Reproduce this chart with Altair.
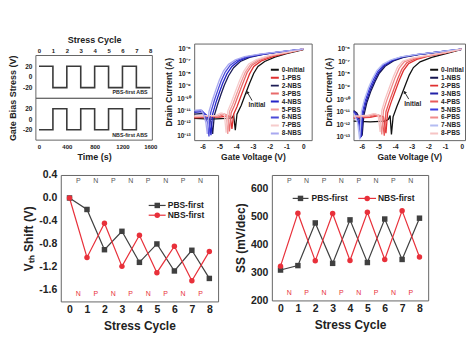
import altair as alt
import pandas as pd

FONT = "Liberation Sans"
INK = "#222222"
WAVE = "#3a3a3a"
GRAY = "#404040"
RED = "#e8303a"
FRAME = "#666666"

# ---------------- Panel A: gate-bias waveforms ----------------
stress_time = [0, 200, 400, 600, 800, 1000, 1200, 1400, 1600]
pbs_first_bias = [20, -20, 20, -20, 20, -20, 20, -20, -20]
nbs_first_bias = [-20, 20, -20, 20, -20, 20, -20, 20, 20]
time_ticks = [0, 400, 800, 1200, 1600]
bias_ticks = [-20, 0, 20]

# ---------------- Panels B/C: transfer curves (V, log10 I) ----------------
gate_voltage_ticks = [-6, -5, -4, -3, -2, -1, 0]
current_decades = [-13, -12, -11, -10, -9, -8, -7, -6]

pbs_first_names = ["0-Initial", "1-PBS", "2-NBS", "3-PBS", "4-NBS", "5-PBS", "6-NBS", "7-PBS", "8-NBS"]
pbs_first_colors = ["#111111", "#e03030", "#1c1c55", "#e86a6a", "#2424c8", "#f09a9a", "#4a4ad8", "#f6cccc", "#a8a8f0"]
pbs_first_curves = {
    "0-Initial": [(-6.5, -11.65), (-5.5, -11.7), (-4.6, -11.65), (-4.25, -11.6), (-4.15, -11.4), (-4.05, -12.6), (-3.95, -11.3), (-3.7, -10.6), (-3.45, -9.7), (-3.2, -8.8), (-2.95, -8.0), (-2.7, -7.45), (-2.3, -7.05), (-1.7, -6.7), (-1.0, -6.42), (-0.5, -6.25), (0.0, -6.08)],
    "1-PBS": [(-6.5, -11.6), (-5.0, -11.55), (-4.5, -11.45), (-4.35, -11.5), (-4.25, -12.5), (-4.15, -11.3), (-3.95, -10.7), (-3.7, -9.8), (-3.45, -8.9), (-3.2, -8.05), (-2.95, -7.45), (-2.5, -7.0), (-1.8, -6.65), (-1.0, -6.38), (-0.5, -6.22), (0.0, -6.06)],
    "2-NBS": [(-6.5, -11.3), (-6.0, -11.25), (-5.7, -11.5), (-5.5, -11.9), (-5.4, -12.9), (-5.3, -11.4), (-5.1, -10.5), (-4.9, -9.7), (-4.7, -8.95), (-4.45, -8.2), (-4.15, -7.55), (-3.75, -7.05), (-3.2, -6.72), (-2.4, -6.48), (-1.5, -6.3), (-0.7, -6.17), (0.0, -6.05)],
    "3-PBS": [(-6.5, -11.55), (-5.0, -11.5), (-4.7, -11.3), (-4.5, -11.4), (-4.4, -12.7), (-4.3, -11.2), (-4.1, -10.6), (-3.85, -9.7), (-3.6, -8.8), (-3.35, -7.95), (-3.05, -7.35), (-2.6, -6.95), (-1.9, -6.6), (-1.0, -6.35), (0.0, -6.05)],
    "4-NBS": [(-6.5, -11.15), (-6.0, -11.1), (-5.75, -11.4), (-5.6, -11.9), (-5.5, -13.0), (-5.4, -11.3), (-5.2, -10.35), (-5.0, -9.55), (-4.8, -8.8), (-4.55, -8.05), (-4.25, -7.45), (-3.85, -7.0), (-3.3, -6.7), (-2.4, -6.47), (-1.5, -6.3), (-0.7, -6.17), (0.0, -6.05)],
    "5-PBS": [(-6.5, -11.5), (-5.1, -11.45), (-4.8, -11.25), (-4.6, -11.35), (-4.5, -12.9), (-4.4, -11.1), (-4.2, -10.5), (-3.95, -9.6), (-3.7, -8.7), (-3.45, -7.9), (-3.15, -7.3), (-2.7, -6.92), (-2.0, -6.58), (-1.0, -6.33), (0.0, -6.04)],
    "6-NBS": [(-6.5, -11.05), (-6.05, -11.0), (-5.85, -11.35), (-5.7, -12.0), (-5.62, -13.1), (-5.52, -11.2), (-5.3, -10.2), (-5.1, -9.4), (-4.9, -8.65), (-4.65, -7.9), (-4.35, -7.35), (-3.95, -6.95), (-3.4, -6.68), (-2.5, -6.46), (-1.5, -6.29), (-0.7, -6.16), (0.0, -6.05)],
    "7-PBS": [(-6.5, -11.45), (-5.2, -11.4), (-4.9, -11.2), (-4.7, -11.3), (-4.6, -12.8), (-4.5, -11.05), (-4.3, -10.4), (-4.05, -9.5), (-3.8, -8.6), (-3.55, -7.85), (-3.25, -7.25), (-2.8, -6.9), (-2.0, -6.56), (-1.0, -6.32), (0.0, -6.04)],
    "8-NBS": [(-6.5, -11.0), (-6.1, -10.95), (-5.95, -11.3), (-5.8, -12.0), (-5.72, -12.9), (-5.62, -11.1), (-5.4, -10.1), (-5.2, -9.3), (-5.0, -8.55), (-4.75, -7.8), (-4.45, -7.28), (-4.05, -6.92), (-3.5, -6.66), (-2.6, -6.45), (-1.5, -6.28), (-0.7, -6.15), (0.0, -6.05)],
}

nbs_first_names = ["0-Initial", "1-NBS", "2-PBS", "3-NBS", "4-PBS", "5-NBS", "6-PBS", "7-NBS", "8-PBS"]
nbs_first_colors = ["#111111", "#161650", "#e03030", "#2222a8", "#e85a5a", "#3c3ce0", "#f08c8c", "#b4bcf2", "#f6c4c4"]
nbs_first_curves = {
    "0-Initial": [(-6.5, -11.75), (-5.5, -11.8), (-4.6, -11.75), (-4.4, -11.6), (-4.3, -11.3), (-4.22, -12.8), (-4.12, -11.4), (-3.9, -10.6), (-3.65, -9.8), (-3.4, -8.95), (-3.15, -8.1), (-2.9, -7.5), (-2.5, -7.05), (-1.8, -6.7), (-1.0, -6.42), (0.0, -6.06)],
    "1-NBS": [(-6.5, -10.9), (-6.3, -11.1), (-6.1, -11.6), (-5.98, -12.9), (-5.88, -11.3), (-5.7, -10.3), (-5.45, -9.35), (-5.2, -8.6), (-4.95, -7.95), (-4.6, -7.4), (-4.1, -6.98), (-3.5, -6.7), (-2.6, -6.47), (-1.5, -6.29), (-0.7, -6.16), (0.0, -6.05)],
    "2-PBS": [(-6.5, -11.5), (-5.5, -11.45), (-5.0, -11.3), (-4.7, -11.4), (-4.55, -12.7), (-4.45, -11.1), (-4.25, -10.3), (-4.0, -9.4), (-3.75, -8.5), (-3.5, -7.75), (-3.2, -7.2), (-2.7, -6.85), (-2.0, -6.6), (-1.0, -6.35), (0.0, -6.05)],
    "3-NBS": [(-6.5, -10.95), (-6.3, -11.2), (-6.15, -11.7), (-6.03, -13.0), (-5.93, -11.2), (-5.75, -10.25), (-5.5, -9.3), (-5.25, -8.55), (-5.0, -7.9), (-4.65, -7.35), (-4.15, -6.95), (-3.55, -6.68), (-2.6, -6.46), (-1.5, -6.29), (-0.7, -6.16), (0.0, -6.05)],
    "4-PBS": [(-6.5, -11.45), (-5.5, -11.4), (-5.1, -11.25), (-4.8, -11.35), (-4.65, -12.9), (-4.55, -11.0), (-4.35, -10.2), (-4.1, -9.3), (-3.85, -8.4), (-3.6, -7.65), (-3.3, -7.12), (-2.8, -6.82), (-2.0, -6.57), (-1.0, -6.33), (0.0, -6.05)],
    "5-NBS": [(-6.5, -11.0), (-6.35, -11.3), (-6.2, -11.8), (-6.08, -13.1), (-5.98, -11.1), (-5.8, -10.15), (-5.55, -9.2), (-5.3, -8.45), (-5.05, -7.82), (-4.7, -7.3), (-4.2, -6.92), (-3.6, -6.66), (-2.6, -6.45), (-1.5, -6.28), (-0.7, -6.15), (0.0, -6.05)],
    "6-PBS": [(-6.5, -11.4), (-5.6, -11.35), (-5.2, -11.2), (-4.92, -11.3), (-4.8, -12.8), (-4.7, -10.95), (-4.5, -10.1), (-4.25, -9.2), (-4.0, -8.3), (-3.75, -7.55), (-3.45, -7.05), (-2.9, -6.78), (-2.0, -6.55), (-1.0, -6.32), (0.0, -6.04)],
    "7-NBS": [(-6.5, -11.1), (-6.4, -11.4), (-6.25, -11.9), (-6.13, -13.2), (-6.03, -11.0), (-5.85, -10.05), (-5.6, -9.1), (-5.35, -8.35), (-5.1, -7.75), (-4.75, -7.25), (-4.25, -6.9), (-3.65, -6.65), (-2.6, -6.44), (-1.5, -6.28), (-0.7, -6.15), (0.0, -6.05)],
    "8-PBS": [(-6.5, -11.35), (-5.7, -11.3), (-5.3, -11.15), (-5.02, -11.25), (-4.9, -12.6), (-4.8, -10.9), (-4.6, -10.0), (-4.35, -9.1), (-4.1, -8.2), (-3.85, -7.45), (-3.55, -7.0), (-3.0, -6.75), (-2.0, -6.54), (-1.0, -6.31), (0.0, -6.04)],
}

# "Initial" annotation: label position and arrow (tail -> head)
initial_label_b = (-2.76, -10.55)
initial_arrow_b = (-3.05, -10.2, -3.34, -9.52)
initial_label_c = (-2.94, -10.35)
initial_arrow_c = (-3.18, -10.0, -3.43, -9.44)

# ---------------- Panels D/E: Vth shift and SS vs stress cycle ----------------
cycles = [0, 1, 2, 3, 4, 5, 6, 7, 8]
vth_pbs_first = [0.0, -0.20, -0.90, -0.58, -1.12, -0.80, -1.27, -0.91, -1.40]
vth_nbs_first = [0.0, -1.035, -0.44, -1.19, -0.65, -1.30, -0.84, -1.44, -0.93]
ss_pbs_first = [309, 325, 478, 333, 489, 336, 492, 347, 495]
ss_nbs_first = [323, 513, 342, 512, 343, 516, 347, 522, 356]
series_names = ["PBS-first", "NBS-first"]
series_colors = [GRAY, RED]
series_shapes = ["square", "circle"]
letter_cycles = [0.5, 1.5, 2.5, 3.5, 4.5, 5.5, 6.5, 7.5]
top_letters = ["P", "N", "P", "N", "P", "N", "P", "N"]
bottom_letters = ["N", "P", "N", "P", "N", "P", "N", "P"]
vth_ticks = [-1.6, -1.2, -0.8, -0.4, 0.0, 0.4]
ss_ticks = [200, 300, 400, 500, 600]

MINUS = "replace(datum.label, '\u2212', '-')"
SUP = str.maketrans("-0123456789", "\u207b\u2070\u00b9\u00b2\u00b3\u2074\u2075\u2076\u2077\u2078\u2079")
POW_EXPR = "".join(f"datum.value == {d} ? '10{str(d).translate(SUP)}' : " for d in current_decades) + "''"

AX = dict(tickCount=60, labelOverlap=False, labelFlush=False, labelBound=False, labelFontWeight="bold",
          titleFontWeight="bold", labelColor=INK, titleColor=INK, domain=False, ticks=False, grid=False)


def frame():
    return alt.ViewBackground(stroke=FRAME, strokeWidth=1)


def spacer(w, h):
    return alt.Chart(pd.DataFrame({"s": [0]})).mark_point(opacity=0).encode(
        x=alt.value(0), y=alt.value(0)
    ).properties(width=w, height=h, view=alt.ViewBackground(stroke=None))


# ---------------- Panel A (two stacked sub-plots in one view) ----------------
A_W, A_H, A_TOP, A_MID = 117, 97, 12, 55
xA = alt.Scale(domain=[-45, 1630], nice=False, zero=False)
yA_top = alt.Scale(domain=[-40, 40], range=[A_MID, A_TOP], nice=False, zero=False)
yA_bot = alt.Scale(domain=[-40, 40], range=[A_H, A_MID], nice=False, zero=False)
box = pd.DataFrame({"k": [0]})

a_top = alt.layer(
    alt.Chart(pd.DataFrame({"t": stress_time, "v": pbs_first_bias})).mark_line(
        interpolate="step-after", color=WAVE, strokeWidth=1.6).encode(
        x=alt.X("t:Q", scale=xA, axis=alt.Axis(orient="top", offset=-A_TOP, values=stress_time,
                                               labelExpr="datum.value / 200", title="Stress Cycle",
                                               labelFontSize=6, titleFontSize=9, labelPadding=2,
                                               titlePadding=3, **AX)),
        y=alt.Y("v:Q", scale=yA_top, axis=alt.Axis(orient="left", values=bias_ticks, format="d", labelExpr=MINUS,
                                                   labelFontSize=6.5, labelPadding=4,
                                                   title="Gate Bias Stress (V)", titleFontSize=9,
                                                   titleX=-18, titleY=(A_TOP + A_H) / 2, titleAngle=270,
                                                   titleAlign="center", titleBaseline="bottom", **AX)),
    ),
    alt.Chart(pd.DataFrame({"t": [1560], "v": [-29], "label": ["PBS-first ABS"]})).mark_text(
        align="right", baseline="middle", fontSize=5.3, fontWeight="bold", color=INK
    ).encode(x="t:Q", y="v:Q", text="label:N"),
    alt.Chart(box).mark_rect(fillOpacity=0, stroke=FRAME, strokeWidth=1).encode(
        x=alt.value(0), x2=alt.value(A_W), y=alt.value(A_TOP), y2=alt.value(A_MID)),
)
a_bot = alt.layer(
    alt.Chart(pd.DataFrame({"t": stress_time, "v": nbs_first_bias})).mark_line(
        interpolate="step-after", color=WAVE, strokeWidth=1.6).encode(
        x=alt.X("t:Q", scale=xA, axis=alt.Axis(orient="bottom", values=time_ticks, format="d", title="Time (s)",
                                               labelFontSize=6, titleFontSize=9, labelPadding=3,
                                               titlePadding=3, **AX)),
        y=alt.Y("v:Q", scale=yA_bot, axis=alt.Axis(orient="left", values=bias_ticks, format="d", labelExpr=MINUS,
                                                   labelFontSize=6.5, labelPadding=4, title=None, **AX)),
    ),
    alt.Chart(pd.DataFrame({"t": [1560], "v": [-30.5], "label": ["NBS-first ABS"]})).mark_text(
        align="right", baseline="middle", fontSize=5.3, fontWeight="bold", color=INK
    ).encode(x="t:Q", y="v:Q", text="label:N"),
    alt.Chart(box).mark_rect(fillOpacity=0, stroke=FRAME, strokeWidth=1).encode(
        x=alt.value(0), x2=alt.value(A_W), y=alt.value(A_MID), y2=alt.value(A_H)),
)
panel_a = alt.layer(a_top, a_bot).resolve_scale(y="independent").resolve_axis(
    x="independent", y="independent").properties(width=A_W, height=A_H, view=alt.ViewBackground(stroke=None))


# ---------------- Panels B / C ----------------
def transfer_panel(names, colors, curves, field, xdom, ydom, label_pos, arrow, width):
    rows = []
    for name in names:
        for v, li in curves[name]:
            rows.append({field: name, "V": v, "logI": li})
    df = pd.DataFrame(rows)
    xs = alt.Scale(domain=xdom, nice=False, zero=False)
    ys = alt.Scale(domain=ydom, nice=False, zero=False)
    lines = alt.Chart(df).mark_line(strokeWidth=1.3, clip=True).encode(
        x=alt.X("V:Q", scale=xs, axis=alt.Axis(values=gate_voltage_ticks, format="d", labelExpr=MINUS,
                                               labelFontSize=6.5, labelPadding=3, title="Gate Voltage (V)",
                                               titleFontSize=8.5, titlePadding=3, **AX)),
        y=alt.Y("logI:Q", scale=ys, axis=alt.Axis(values=current_decades, labelExpr=POW_EXPR, labelFontSize=6.5,
                                                  labelPadding=4, title="Drain Current (A)", titleFontSize=8.5,
                                                  titlePadding=3, **AX)),
        color=alt.Color(f"{field}:N", sort=names, scale=alt.Scale(domain=names, range=colors),
                        legend=alt.Legend(orient="none", legendX=76, legendY=23, title=None,
                                          symbolType="stroke", symbolStrokeWidth=2, symbolSize=64,
                                          labelFontSize=6.5, labelFontWeight="bold", labelColor=INK,
                                          clipHeight=6.5, rowPadding=1, padding=0, labelOffset=2)),
    )
    arrow_df = pd.DataFrame({"V": [arrow[0]], "logI": [arrow[1]], "V2": [arrow[2]], "logI2": [arrow[3]]})
    arrow_line = alt.Chart(arrow_df).mark_rule(color=INK, strokeWidth=0.9).encode(
        x="V:Q", y="logI:Q", x2="V2:Q", y2="logI2:Q")
    head_df = pd.DataFrame({"V": [arrow[2]], "logI": [arrow[3]]})
    arrow_head = alt.Chart(head_df).mark_point(shape="triangle-up", filled=True, size=14, color=INK,
                                               angle=330, opacity=1).encode(x="V:Q", y="logI:Q")
    label_df = pd.DataFrame({"V": [label_pos[0]], "logI": [label_pos[1]], "label": ["Initial"]})
    label = alt.Chart(label_df).mark_text(fontSize=6.5, fontWeight="bold", color=INK).encode(
        x="V:Q", y="logI:Q", text="label:N")
    return alt.layer(lines, arrow_line, arrow_head, label).properties(width=width, height=97, view=frame())


panel_b = transfer_panel(pbs_first_names, pbs_first_colors, pbs_first_curves, "curveB",
                         [-6.5, 0.5], [-13.4, -5.6], initial_label_b, initial_arrow_b, 118)
panel_c = transfer_panel(nbs_first_names, nbs_first_colors, nbs_first_curves, "curveC",
                         [-6.5, 0.2], [-13.25, -5.6], initial_label_c, initial_arrow_c, 112)


# ---------------- Panels D / E ----------------
def cycle_panel(vals_p, vals_n, ydom, yticks, yfmt_expr, ytitle, top_y, bot_y, legend_rows, width, height):
    df = pd.DataFrame({
        "cycle": cycles * 2,
        "val": vals_p + vals_n,
        "series": [series_names[0]] * len(cycles) + [series_names[1]] * len(cycles),
    })
    xs = alt.Scale(domain=[-0.5, 8.5], nice=False, zero=False)
    ys = alt.Scale(domain=ydom, nice=False, zero=False)
    cs = alt.Scale(domain=series_names, range=series_colors)
    ss = alt.Scale(domain=series_names, range=series_shapes)
    base = alt.Chart(df)
    line = base.mark_line(strokeWidth=1.2).encode(
        x=alt.X("cycle:Q", scale=xs, axis=alt.Axis(values=cycles, format="d", labelFontSize=10.5, labelPadding=3,
                                                   title="Stress Cycle", titleFontSize=12, titlePadding=6, **AX)),
        y=alt.Y("val:Q", scale=ys, axis=alt.Axis(values=yticks, labelExpr=yfmt_expr, labelFontSize=10.5,
                                                 labelPadding=4, title=ytitle, titleFontSize=12, titlePadding=3,
                                                 **AX)),
        color=alt.Color("series:N", scale=cs, legend=None),
    )
    pts = base.mark_point(filled=True, size=30, opacity=1).encode(
        x="cycle:Q", y="val:Q",
        color=alt.Color("series:N", scale=cs, legend=None),
        shape=alt.Shape("series:N", scale=ss, legend=None),
    )
    tl = alt.Chart(pd.DataFrame({"cycle": letter_cycles, "val": [top_y] * 8, "label": top_letters})).mark_text(
        fontSize=7, color="#555555").encode(x="cycle:Q", y="val:Q", text="label:N")
    bl = alt.Chart(pd.DataFrame({"cycle": letter_cycles, "val": [bot_y] * 8, "label": bottom_letters})).mark_text(
        fontSize=7, color=RED).encode(x="cycle:Q", y="val:Q", text="label:N")
    leg = pd.DataFrame(legend_rows)
    leg_line = alt.Chart(leg).mark_rule(strokeWidth=1.2).encode(
        x="cycle:Q", x2="cycle2:Q", y="val:Q", color=alt.Color("series:N", scale=cs, legend=None))
    leg_pt = alt.Chart(leg).mark_point(filled=True, size=30, opacity=1).encode(
        x="cmid:Q", y="val:Q", color=alt.Color("series:N", scale=cs, legend=None),
        shape=alt.Shape("series:N", scale=ss, legend=None))
    leg_txt = alt.Chart(leg).mark_text(align="left", fontSize=8.5, fontWeight="bold", color=INK).encode(
        x="ctext:Q", y="val:Q", text="series:N")
    return alt.layer(line, pts, tl, bl, leg_line, leg_pt, leg_txt).properties(
        width=width, height=height, view=frame())


legend_d = {"series": series_names, "cycle": [4.53, 4.53], "cycle2": [5.5, 5.5], "cmid": [5.02, 5.02],
            "ctext": [5.62, 5.62], "val": [-0.13, -0.30]}
legend_e = {"series": series_names, "cycle": [0.7, 4.47], "cycle2": [1.61, 5.5], "cmid": [1.15, 4.99],
            "ctext": [1.79, 5.61], "val": [566, 566]}

panel_d = cycle_panel(vth_pbs_first, vth_nbs_first, [-1.8, 0.4], vth_ticks,
                      "replace(format(datum.value, '.1f'), '\u2212', '-')", "V\u209c\u2095 Shift (V)",
                      0.3, -1.67, legend_d, 158, 127)
panel_e = cycle_panel(ss_pbs_first, ss_nbs_first, [200, 650], ss_ticks, "format(datum.value, 'd')", "SS (mV/dec)",
                      628, 225, legend_e, 157, 126)

top_row = alt.hconcat(panel_a, panel_b, panel_c, spacing=42, bounds="flush").resolve_scale(
    x="independent", y="independent", color="independent").resolve_legend(color="independent")
bottom_row = alt.hconcat(spacer(15, 1), panel_d, spacer(34, 1), panel_e, spacing=10, bounds="flush").resolve_scale(
    x="independent", y="independent", color="independent", shape="independent")

chart = alt.vconcat(top_row, bottom_row, spacing=7).resolve_scale(
    x="independent", y="independent", color="independent", shape="independent"
).properties(
    padding={"left": 0, "top": 27, "right": 0, "bottom": 0}
).configure(font=FONT).configure_view(stroke=FRAME).configure_axis(
    domain=False, ticks=False, grid=False, labelFontWeight="bold", titleFontWeight="bold",
    labelColor=INK, titleColor=INK, labelOverlap=False
)

chart.save("out.html", embed_options={"renderer": "svg", "actions": False})
